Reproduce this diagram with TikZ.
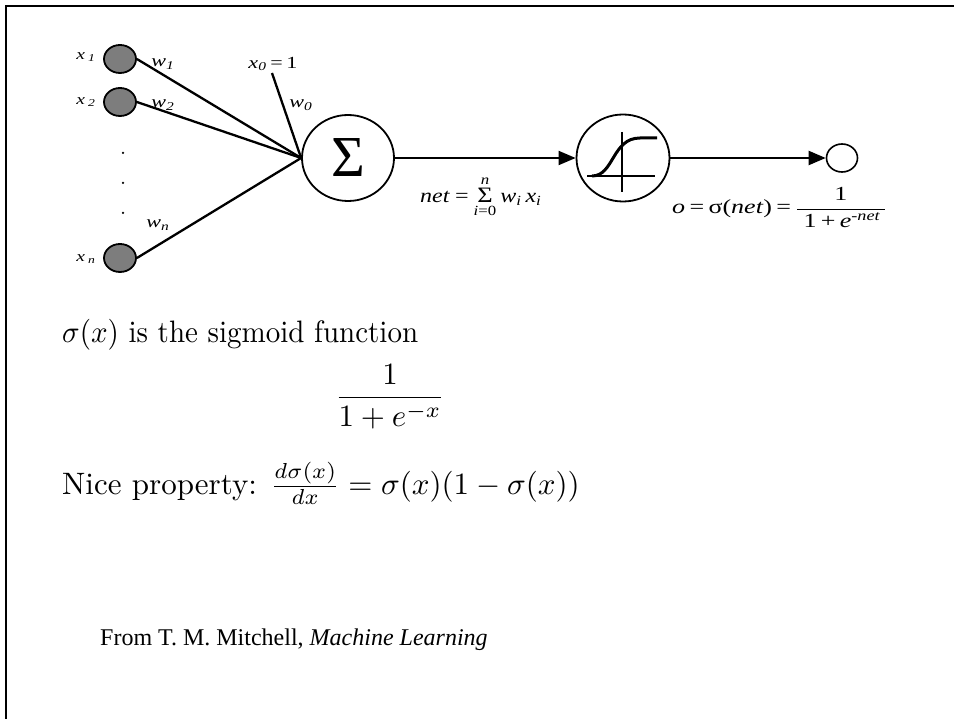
\RequirePackage{fix-cm}
\documentclass[tikz,border=0pt]{standalone}
\usepackage{amsmath}
\usepackage{fontspec}
\usepackage{graphicx}
\usetikzlibrary{arrows.meta,shapes.geometric}
\newfontfamily\tnr{Liberation Serif}
\definecolor{nodegray}{RGB}{125,125,125}
\newcommand{\wide}[1]{\scalebox{1.3}[1]{#1}}
\newcommand{\bigtext}[1]{\scalebox{3.1}{\fontsize{10}{12}\selectfont #1}}
\tikzset{
  inp/.style={ellipse,draw,line width=1.8pt,fill=nodegray,minimum width=32pt,minimum height=28pt,inner sep=0pt},
  unit/.style={ellipse,draw,line width=1.8pt,fill=white,minimum width=92pt,minimum height=86pt,inner sep=0pt},
  outn/.style={ellipse,draw,line width=1.6pt,fill=white,minimum width=31pt,minimum height=28pt,inner sep=0pt},
  wline/.style={line width=2.3pt},
  arr/.style={line width=2pt,-{Triangle[length=17pt,width=14pt]}},
  lab/.style={font=\tnr\itshape\fontsize{17}{20}\selectfont,inner sep=0pt},
  olabf/.style={font=\tnr\itshape\fontsize{20}{24}\selectfont,inner sep=0pt},
  inlab/.style={font=\tnr\itshape\fontsize{15}{18}\selectfont,inner sep=0pt},
  big/.style={inner sep=0pt},
  dotn/.style={circle,fill=black,inner sep=0pt,minimum size=2.5pt}
}
\begin{document}
\begin{tikzpicture}[x=1pt,y=-1pt]
\useasboundingbox (0,0) rectangle (954,719);
\fill[white] (0,0) rectangle (954,719);
% frame
\draw[line width=2.6pt] (6,719) -- (6,6) -- (954,6);

% input nodes
\node[inp] (x1) at (120,59) {};
\node[inp] (x2) at (120,102) {};
\node[inp] (xn) at (120,258) {};
\node[inlab] (lx1) at (86,57) {\wide{x\,\textsubscript{1}}};
\node[inlab] (lx2) at (86,102) {\wide{x\,\textsubscript{2}}};
\node[inlab] (lxn) at (86,259) {\wide{x\,\textsubscript{n}}};
\node[dotn] (d1) at (123,153) {};
\node[dotn] (d2) at (123,183) {};
\node[dotn] (d3) at (123,213) {};

% units
\node[unit] (sum) at (348,158) {\tnr\fontsize{58}{58}\selectfont Σ};
\node[unit,minimum width=93pt,minimum height=87pt] (sig) at (623,158) {};
\node[outn] (out) at (842,158) {};
\coordinate (x0top) at (272,73);

% weight lines
\draw[wline] (x1.east) -- (sum.west);
\draw[wline] (x2.east) -- (sum.west);
\draw[wline] (xn.east) -- (sum.west);
\draw[wline] (x0top) -- (sum.west);

% weight labels
\node[lab] (w1) at (163,64) {\wide{w\textsubscript{1}}};
\node[lab] (w2) at (163,105) {\wide{w\textsubscript{2}}};
\node[lab] (wn) at (158,225) {\wide{w\textsubscript{n}}};
\node[lab] (w0) at (301,105) {\wide{w\textsubscript{0}}};
\node[lab] (x0) at (273,64) {\wide{x\textsubscript{0}\upshape\,=\,1}};

% arrows
\draw[arr] (sum.east) -- (sig.west);
\draw[arr] (sig.east) -- (out.west);

% sigmoid icon
\draw[line width=1.8pt] (587,176) -- (655,176);
\draw[line width=1.8pt] (622,132) -- (622,192);
\draw[line width=3pt] (592,176) .. controls (614,176) and (612,138) .. (640,138) -- (657,138);

% net label
\node[olabf,anchor=base west] (net) at (420,203)
  {\scalebox{1.2}[1]{net\,=\,$\mathop{\hbox{\upshape\fontsize{22}{22}\selectfont Σ}}\limits^{\hbox{\fontsize{14}{14}\selectfont n}}_{\hbox{\fontsize{14}{14}\selectfont i\upshape=0}}$\,w\textsubscript{i}\,x\textsubscript{i}}};

% output label
\node[olabf,anchor=base west] (olab) at (672,214)
  {\wide{o\upshape\,=\,σ(\textit{net})\,=\,$\dfrac{\hbox{\upshape\ \ 1\ \ }}{\hbox{\upshape\ 1\,+\,\textit{e}\textsuperscript{\itshape -net}\,}}$}};

% text block
\node[big,anchor=base west] (t1) at (62,343) {\scalebox{2.9}[3.1]{\fontsize{10}{12}\selectfont $\sigma(x)$ is the sigmoid function}};
\node[big] (t2) at (390,397) {\bigtext{$\dfrac{1}{1+e^{-x}}$}};
\node[big,anchor=base west] (t3) at (62,494) {\bigtext{Nice property: $\frac{d\sigma(x)}{dx}=\sigma(x)(1-\sigma(x))$}};
\node[anchor=base west,inner sep=0pt,font=\tnr\fontsize{24}{28}\selectfont] (t4) at (100,645) {From T. M. Mitchell, \textit{Machine Learning}};
\end{tikzpicture}
\end{document}
